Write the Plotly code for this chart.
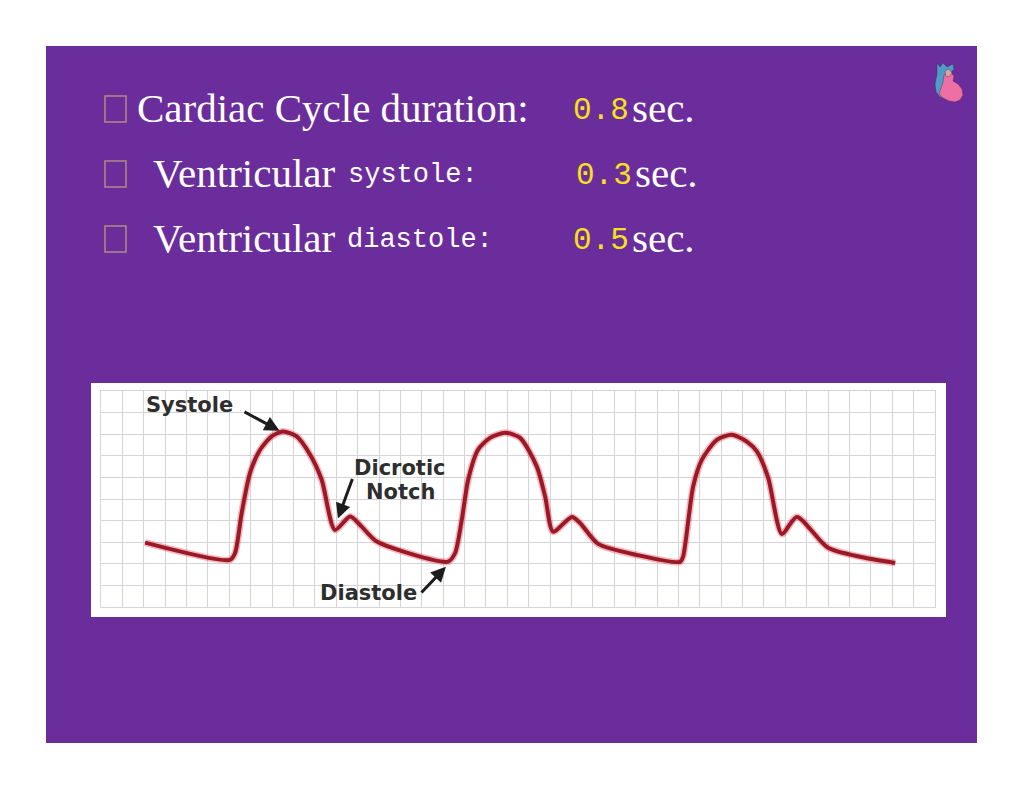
import plotly.graph_objects as go

W, H = 1024, 791

# Pulse curve, in grid cells of the paper trace
pulse_x = [2.06, 6.03, 6.27, 6.58, 6.97, 7.44, 7.98, 8.51, 9.15, 9.78, 10.32, 10.94, 11.65, 12.19, 12.90,
           16.23, 16.56, 16.87, 17.17, 17.63, 18.19, 18.90, 19.60, 20.38, 20.77, 21.14, 22.02, 22.40, 23.25,
           25.06, 27.08, 27.22, 27.69, 28.10, 28.80, 29.50, 30.20, 30.67, 31.20, 31.84, 32.54, 34.00, 35.97, 37.14]
pulse_y = [2.98, 2.18, 2.50, 4.36, 6.21, 7.28, 7.90, 8.13, 7.90, 7.05, 5.89, 3.57, 4.19, 3.72, 3.03,
           2.10, 2.50, 4.03, 5.89, 7.28, 7.83, 8.07, 7.83, 6.50, 5.11, 3.49, 4.17, 3.89, 2.92,
           2.41, 2.09, 2.33, 5.58, 6.82, 7.74, 7.97, 7.66, 7.20, 5.98, 3.38, 4.17, 2.74, 2.23, 2.04]

row_prefix = ["Cardiac Cycle duration:", "Ventricular", "Ventricular"]
row_term = ["", "systole:", "diastole:"]
row_value = ["0.8", "0.3", "0.5"]
row_unit = ["sec.", "sec.", "sec."]

PURPLE = "#6b2d9b"
GRID = "#d6d2d9"
LINE = "#981a27"
DARK = "#2e2e2e"
YELLOW = "#f7e11a"


def fx(p):
    return p / W


def fy(p):
    return 1 - p / H


def rect(x0, y0, x1, y1, fill, line=None, layer="below", width=1.5):
    return dict(type="rect", xref="paper", yref="paper", x0=fx(x0), x1=fx(x1), y0=fy(y0), y1=fy(y1),
                fillcolor=fill, line=dict(color=line or fill, width=width if line else 0), layer=layer)


def poly(points, fill):
    d = "M " + " L ".join(f"{fx(a):.5f},{fy(b):.5f}" for a, b in points) + " Z"
    return dict(type="path", xref="paper", yref="paper", path=d, fillcolor=fill,
                line=dict(width=0.6, color="rgba(60,30,70,0.6)"), layer="above")


def label(x, y, text, size, color, family, anchor="left", bold=False):
    return dict(xref="paper", yref="paper", x=fx(x), y=fy(y), xanchor=anchor, yanchor="middle",
                text=f"<b>{text}</b>" if bold else text, showarrow=False,
                font=dict(size=size, color=color, family=family))


def arrow(x0, y0, x1, y1):
    return dict(xref="x", yref="y", axref="x", ayref="y", x=x1, y=y1, ax=x0, ay=y0, text="", showarrow=True,
                arrowhead=2, arrowsize=1.0, arrowwidth=3, arrowcolor="#1c1c1c")


fig = go.Figure()
fig.add_trace(go.Scatter(x=pulse_x, y=pulse_y, mode="lines", hoverinfo="skip",
                         line=dict(color="rgba(240,40,60,0.35)", width=7, shape="spline", smoothing=0.7)))
fig.add_trace(go.Scatter(x=pulse_x, y=pulse_y, mode="lines", hoverinfo="skip",
                         line=dict(color=LINE, width=4, shape="spline", smoothing=0.7)))

shapes = [
    rect(46, 46, 977, 743, PURPLE),
    rect(91, 383, 946, 617, "#ffffff"),
]
for top in (96, 161, 226):
    shapes.append(rect(105, top, 126, top + 26, "rgba(0,0,0,0)", "#b08c80", layer="above"))

# small heart icon
shapes += [
    poly([(937, 63), (940, 67), (943, 63), (947, 67), (953, 64), (954, 69), (950, 74), (946, 78), (944, 90), (946, 99),
          (940, 97), (936, 92), (935, 84), (937, 74)], "#4f9bc9"),
    poly([(944, 75), (950, 72), (954, 76), (953, 81), (958, 84), (962, 89), (963, 95), (960, 100), (955, 102), (949, 101),
          (943, 98), (939, 94), (941, 88), (943, 82)], "#ee6fa3"),
    poly([(945, 71), (949, 69), (952, 73), (950, 76), (946, 77)], "#d9a9a0"),
]

ann = [
    label(135, 108, row_prefix[0], 41, "white", "Liberation Serif"),
    label(151, 173, row_prefix[1], 41, "white", "Liberation Serif"),
    label(151, 238, row_prefix[2], 41, "white", "Liberation Serif"),
    label(346, 175, row_term[1], 27, "white", "Liberation Mono"),
    label(345, 240, row_term[2], 27, "white", "Liberation Mono"),
]
for xv, xu, yr, v, u in zip((571, 574, 571), (630, 633, 630), (110, 175, 240), row_value, row_unit):
    ann.append(label(xv, yr, v, 31, YELLOW, "Liberation Mono"))
    ann.append(label(xu, yr - 2, u, 41, "white", "Liberation Serif"))

ann += [
    label(189, 405, "Systole", 21, DARK, "DejaVu Sans", "center", True),
    label(400, 468, "Dicrotic", 21, DARK, "DejaVu Sans", "center", True),
    label(400, 492, "Notch", 21, DARK, "DejaVu Sans", "center", True),
    label(368, 593, "Diastole", 21, DARK, "DejaVu Sans", "center", True),
    arrow(6.64, 9.07, 8.35, 8.16),
    arrow(11.78, 6.0, 11.08, 4.1),
    arrow(14.92, 0.60, 16.13, 1.86),
]

axis = dict(showgrid=True, gridcolor=GRID, gridwidth=1.3, zeroline=False, showticklabels=False,
            ticks="", dtick=1, showline=True, linecolor=GRID, linewidth=1.3, mirror=True, fixedrange=True)
fig.update_layout(
    width=W, height=H, margin=dict(l=0, r=0, t=0, b=0), paper_bgcolor="white", plot_bgcolor="rgba(0,0,0,0)",
    showlegend=False, shapes=shapes, annotations=ann,
    xaxis=dict(axis, range=[0, 39], domain=[fx(101), fx(935)]),
    yaxis=dict(axis, range=[0, 10], domain=[fy(607), fy(391)]),
)
fig.write_html("out.html", config=dict(displayModeBar=False),
               post_script="document.body.style.margin='0';document.documentElement.style.overflow='hidden';")
